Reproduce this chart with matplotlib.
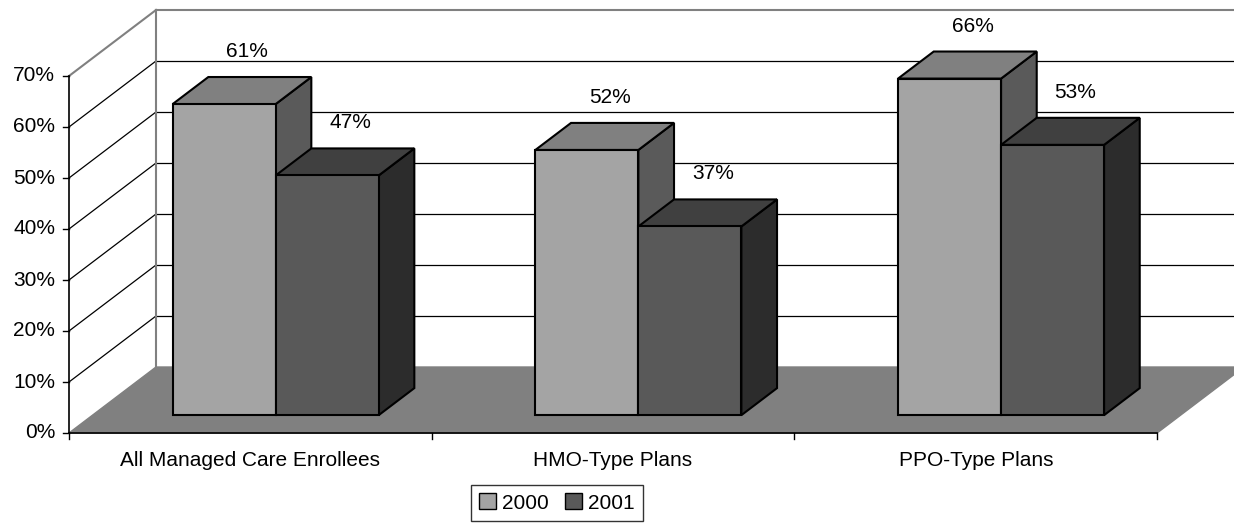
## 3D-look grouped bar chart: managed care enrollees 2000 vs 2001
import numpy as np
import matplotlib.pyplot as plt
from matplotlib.patches import Patch

plt.rcParams['font.family'] = ['Liberation Sans', 'DejaVu Sans']

##Data
categories = ['All Managed Care Enrollees', 'HMO-Type Plans', 'PPO-Type Plans']
years = ['2000', '2001']
vals_2000 = [61, 52, 66]
vals_2001 = [47, 37, 53]
yticks = [0, 10, 20, 30, 40, 50, 60, 70]

##Colours: front, top, side for each series
front_cols = ['#a4a4a4', '#595959']
top_cols = ['#808080', '#404040']
side_cols = ['#5a5a5a', '#2c2c2c']

##Scale: pixels per category and per percent, used only to size the axes
px_cat = 362.7
px_pct = 5.1
DX = 87 / px_cat      # full depth of the floor
DY = 66 / px_pct
f0, f1 = 0.27, 0.68   # bars sit in the middle of the depth
w = 0.284             # bar width in category units
tk = 6 / px_pct       # tick length

fig = plt.figure(figsize=(12.34, 5.25), dpi=100)
ax = fig.add_axes([0, 0, 1, 1])
ax.set_xlim(-69 / px_cat, (1234 - 69) / px_cat)
ax.set_ylim(-(525 - 433) / px_pct, 433 / px_pct)
ax.axis('off')

ncat = len(categories)
ymax = yticks[-1]

##Floor
ax.fill([0, ncat, ncat + DX, DX], [0, 0, DY, DY], color='#808080', zorder=1)

##Back wall gridlines and side wall diagonals
for v in yticks:
    if v > 0 and v < ymax:
        ax.plot([DX, ncat + DX + 0.5], [v + DY, v + DY], color='black', lw=0.9, zorder=0.5)
        ax.plot([0, DX], [v, v + DY], color='black', lw=0.9, zorder=0.5)
    ax.plot([-tk / px_cat * px_pct, 0], [v, v], color='black', lw=1, zorder=2)
    ax.text(-14 / px_cat, v, '%d%%' % v, ha='right', va='center', fontsize=15)

##Wall border lines
ax.plot([DX, DX], [DY, ymax + DY], color='#808080', lw=1.5, zorder=0.6)
ax.plot([DX, ncat + DX + 0.5], [ymax + DY, ymax + DY], color='#808080', lw=1.5, zorder=0.6)
ax.plot([0, DX], [ymax, ymax + DY], color='#808080', lw=1.5, zorder=0.6)

##Front axes
ax.plot([0, 0], [0, ymax], color='black', lw=1.2, zorder=2)
ax.plot([0, ncat], [0, 0], color='black', lw=1.2, zorder=2)
for i in range(ncat + 1):
    ax.plot([i, i], [0, -tk], color='black', lw=1, zorder=2)
for i, c in enumerate(categories):
    ax.text(i + 0.5, -27 / px_pct, c, ha='center', va='center', fontsize=15)

##Bars
ox0, oy0 = f0 * DX, f0 * DY
ox1, oy1 = f1 * DX, f1 * DY
series = [vals_2000, vals_2001]
z = 3
for i in range(ncat):
    for s in range(2):
        v = series[s][i]
        xl = i + 0.505 - w + s * w + ox0
        xr = xl + w
        yb = oy0
        yt = v + oy0
        ddx, ddy = ox1 - ox0, oy1 - oy0
        # side
        ax.fill([xr, xr + ddx, xr + ddx, xr], [yb, yb + ddy, yt + ddy, yt],
                facecolor=side_cols[s], edgecolor='black', lw=1.5, zorder=z)
        # top
        ax.fill([xl, xr, xr + ddx, xl + ddx], [yt, yt, yt + ddy, yt + ddy],
                facecolor=top_cols[s], edgecolor='black', lw=1.5, zorder=z)
        # front
        ax.fill([xl, xr, xr, xl], [yb, yb, yt, yt],
                facecolor=front_cols[s], edgecolor='black', lw=1.5, zorder=z + 0.1)
        z += 1
        ax.text((xl + xr) / 2 + 23 / px_cat, yt + 10.3, '%d%%' % v,
                ha='center', va='center', fontsize=15, zorder=20)

##Legend
handles = [Patch(facecolor=front_cols[k], edgecolor='black', label=years[k]) for k in range(2)]
leg = fig.legend(handles=handles, loc='center', bbox_to_anchor=(557 / 1234, 1 - 503 / 525),
                 ncol=2, fontsize=15, frameon=True, fancybox=False, edgecolor='black',
                 handlelength=0.8, handleheight=0.8, handletextpad=0.3, columnspacing=0.8,
                 borderpad=0.4)
leg.get_frame().set_linewidth(1)

plt.savefig('out.png')
